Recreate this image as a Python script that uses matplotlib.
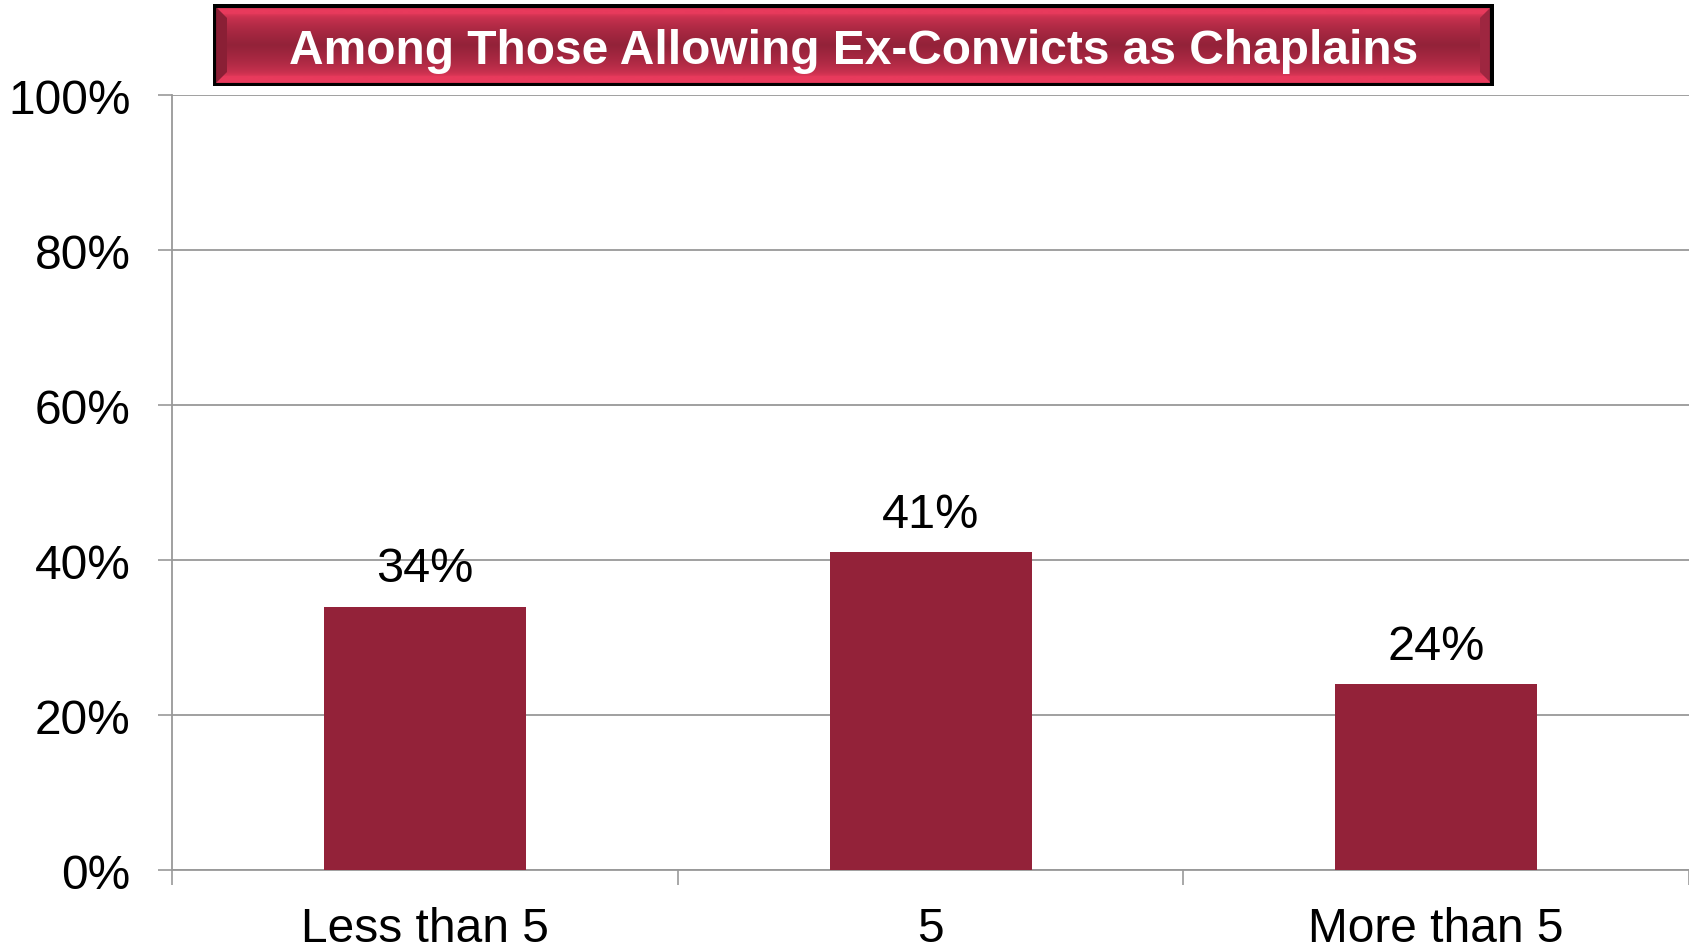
import numpy as np
import matplotlib.pyplot as plt
from matplotlib.patches import Rectangle, Polygon
from matplotlib.ticker import FixedLocator, PercentFormatter

plt.rcParams['font.family'] = ['Liberation Sans', 'DejaVu Sans']

categories = ['Less than 5', '5', 'More than 5']
values = [34, 41, 24]
title = 'Among Those Allowing Ex-Convicts as Chaplains'

bar_color = '#932239'
grid_color = '#999999'

fig = plt.figure(figsize=(16.9, 9.53), dpi=100)
ax = fig.add_axes([0.102, 0.086, 0.8974, 0.813])

x = np.arange(len(categories))
bars = ax.bar(x, values, width=0.4, color=bar_color, zorder=3)

for xi, v in zip(x, values):
    ax.annotate(f'{v}%', (xi, v), xytext=(0, 11), textcoords='offset points',
                ha='center', va='bottom', fontsize=35)

ax.set_xlim(-0.5, len(categories) - 0.5)
ax.set_ylim(0, 100)
ax.set_yticks(np.arange(0, 101, 20))
ax.yaxis.set_major_formatter(PercentFormatter(decimals=0))
ax.set_xticks(x)
ax.set_xticklabels(categories)
ax.xaxis.set_minor_locator(FixedLocator(np.arange(-0.5, len(categories), 1)))

ax.tick_params(axis='y', length=10, width=1.2, color=grid_color, pad=20, labelsize=34.5)
ax.tick_params(axis='x', which='major', length=0, pad=26, labelsize=34.5)
ax.tick_params(axis='x', which='minor', length=11, width=1.2, color=grid_color)

ax.grid(axis='y', color=grid_color, linewidth=1.3, zorder=0)
for s in ['top', 'right']:
    ax.spines[s].set_visible(False)
for s in ['left', 'bottom']:
    ax.spines[s].set_color(grid_color)
    ax.spines[s].set_linewidth(1.3)

# title banner with bevel
W, H = 1690, 953
bx0, bx1, by0, by1 = 213, 1494, 5, 87
tax = fig.add_axes([bx0 / W, 1 - by1 / H, (bx1 - bx0) / W, (by1 - by0) / H])
tax.set_xlim(0, bx1 - bx0)
tax.set_ylim(0, by1 - by0)
tax.axis('off')
w, h = bx1 - bx0, by1 - by0
b = 14
dark = np.array([0x93, 0x22, 0x39]) / 255
light = np.array([0xE8, 0x3A, 0x5C]) / 255
t = np.linspace(0, 1, 100)[:, None]
prof = np.clip(1 - np.abs(t - 0.5) * 2.6, 0, 1) ** 0.5
grad = light + (dark - light) * prof[..., None].reshape(100, 1, 1)
tax.imshow(np.repeat(grad, 2, axis=1), extent=(0, w, 0, h), aspect='auto', zorder=0)
tax.add_patch(Polygon([(0, 0), (b, b), (b, h - b), (0, h)], closed=True,
                      facecolor='#8a1f35', edgecolor='none', zorder=1))
tax.add_patch(Polygon([(w, 0), (w - b, b), (w - b, h - b), (w, h)], closed=True,
                      facecolor='#9e2640', edgecolor='none', zorder=1))
tax.add_patch(Rectangle((1.5, 1.5), w - 3, h - 3, fill=False, edgecolor='black',
                        linewidth=3, zorder=2))
tax.text(w / 2, h / 2 - 5, title, ha='center', va='center', color='white',
         fontsize=34.5, fontweight='bold', zorder=3)

fig.savefig('out.png', dpi=100)
